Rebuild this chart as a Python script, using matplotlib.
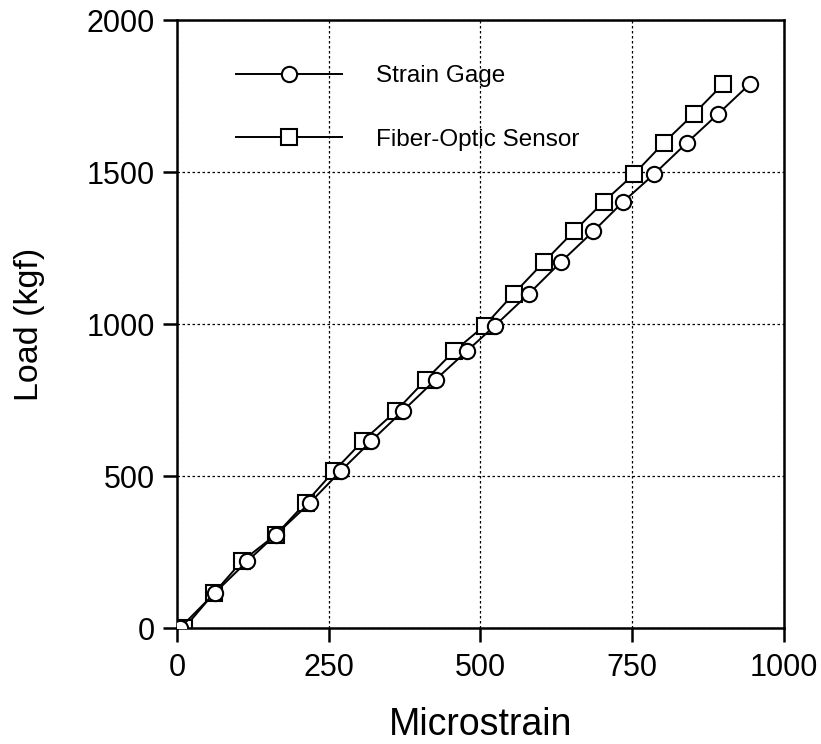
import matplotlib.pyplot as plt

plt.rcParams['font.family'] = ['Liberation Sans', 'DejaVu Sans']

# Load steps (kgf)
load = [0, 115, 220, 307, 412, 517, 615, 714, 817, 910,
        995, 1100, 1205, 1305, 1402, 1493, 1596, 1692, 1790]

# Microstrain readings
strain_gage = [5, 62, 116, 163, 219, 270, 320, 372, 426, 477,
               524, 580, 633, 686, 735, 786, 840, 892, 944]
fiber_optic = [12, 61, 107, 163, 212, 259, 306, 361, 410, 456,
               507, 555, 605, 654, 703, 753, 802, 852, 900]

x_ticks = [0, 250, 500, 750, 1000]
y_ticks = [0, 500, 1000, 1500, 2000]

fig = plt.figure(figsize=(8.21, 7.44), dpi=100)
ax = fig.add_axes([0.2156, 0.1559, 0.7393, 0.8172])

ax.plot(strain_gage, load, '-o', color='black', lw=1.4, ms=11,
        mfc='white', mec='black', mew=1.5, label='Strain Gage', zorder=3)
ax.plot(fiber_optic, load, '-s', color='black', lw=1.4, ms=11,
        mfc='white', mec='black', mew=1.5, label='Fiber-Optic Sensor', zorder=2)

ax.set_xlim(0, 1000)
ax.set_ylim(0, 2000)
ax.set_xticks(x_ticks)
ax.set_yticks(y_ticks)
ax.grid(True, color='black', linestyle=(0, (2, 2)), linewidth=0.9)
ax.set_axisbelow(True)

for s in ax.spines.values():
    s.set_linewidth(1.8)
ax.tick_params(direction='out', length=10, width=1.8, labelsize=22)
ax.tick_params(axis='x', pad=8)
ax.tick_params(axis='y', pad=6)

ax.set_xlabel('Microstrain', fontsize=27, labelpad=17)
ax.set_ylabel('Load (kgf)', fontsize=24.5, labelpad=30)

ax.legend(loc='upper left', bbox_to_anchor=(0.098, 0.926), frameon=False,
          fontsize=17.5, handlelength=4.36, handletextpad=1.39, labelspacing=1.72,
          borderpad=0, borderaxespad=0)

fig.savefig('out.png', dpi=100)
